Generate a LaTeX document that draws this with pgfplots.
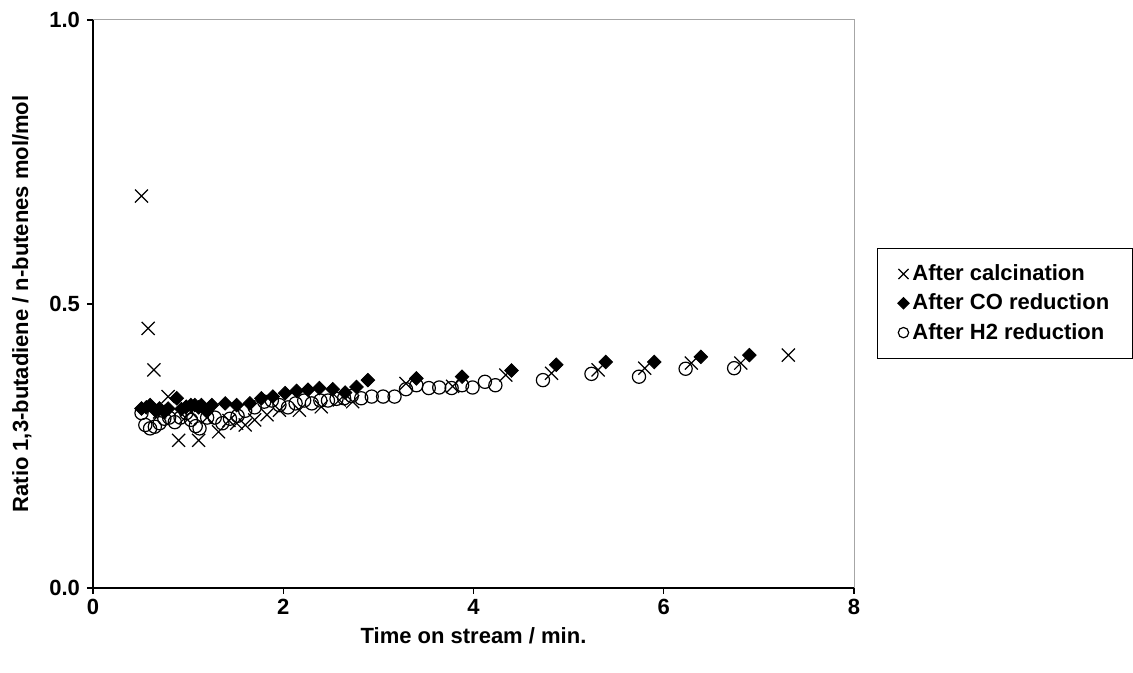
\documentclass[border=0pt]{standalone}
\usepackage{fontspec}
\setmainfont{Liberation Sans}
\usepackage{pgfplots}
\pgfplotsset{compat=1.18}

\begin{document}
\begin{tikzpicture}
\path[use as bounding box] (-46.5pt,-42.5pt) rectangle (520pt,294pt);
\begin{axis}[
    at={(0pt,0pt)}, anchor=south west,
    scale only axis,
    width=380.5pt, height=284pt,
    xmin=0, xmax=8, ymin=0, ymax=1,
    axis lines*=left,
    axis line style={line width=0.6pt, -},
    xtick={0,2,...,8}, ytick={0,0.5,1},
    yticklabel style={/pgf/number format/.cd, fixed, fixed zerofill, precision=1},
    /pgf/number format/assume math mode=true,
    tick align=outside,
    major tick length=3pt,
    tick style={black, line width=0.6pt},
    tick label style={font=\bfseries\fontsize{11}{13}\selectfont},
    xticklabel style={yshift=1pt},
    xlabel={Time on stream / min.},
    ylabel={Ratio 1,3-butadiene / n-butenes mol/mol},
    label style={font=\bfseries\fontsize{11}{13}\selectfont},
    xlabel style={yshift=0.5pt},
    ylabel style={yshift=2pt},
    legend style={at={(1.0302,0.5986)}, anchor=north west,
        draw=black, line width=0.5pt,
        font=\bfseries\fontsize{11}{13}\selectfont,
        row sep=1.2pt, inner xsep=10pt, inner ysep=6pt,
        nodes={inner xsep=1.5pt},
        column 2/.style={text width=116pt}},
    legend cell align=left,
    legend image code/.code={\path[draw=none, fill=none] (-3pt,0pt) -- (3pt,0pt);
        \draw[#1] plot coordinates {(0cm,0cm)};},
    clip=false,
]
\addplot[only marks, mark=x, mark size=4.6pt, line width=0.6pt, black,
    legend image post style={mark size=3.6pt}] coordinates {
(0.51,0.690) (0.58,0.457) (0.64,0.384) (0.70,0.310) (0.79,0.337)
(0.90,0.260) (0.97,0.300) (1.03,0.310) (1.11,0.260) (1.20,0.300)
(1.32,0.275) (1.43,0.295) (1.51,0.290) (1.60,0.287) (1.70,0.296)
(1.83,0.305) (1.96,0.313) (2.17,0.313) (2.40,0.319) (2.59,0.331)
(2.73,0.328) (3.29,0.360) (3.78,0.355) (4.34,0.375) (4.82,0.378)
(5.31,0.384) (5.80,0.387) (6.29,0.396) (6.81,0.396) (7.31,0.410)
};
\addlegendentry{After calcination}
\addplot[only marks, mark=square*, mark size=2.4pt, mark options={rotate=45}, black,
    legend image post style={mark size=2pt}] coordinates {
(0.51,0.316) (0.56,0.318) (0.60,0.322) (0.66,0.312) (0.70,0.316)
(0.75,0.310) (0.79,0.316) (0.88,0.334) (0.93,0.315) (0.98,0.319)
(1.03,0.322) (1.07,0.322) (1.11,0.318) (1.14,0.322) (1.19,0.312)
(1.25,0.322) (1.39,0.325) (1.51,0.322) (1.65,0.325) (1.77,0.334)
(1.89,0.337) (2.02,0.343) (2.14,0.347) (2.26,0.349) (2.38,0.352)
(2.52,0.350) (2.65,0.344) (2.77,0.354) (2.89,0.366) (3.40,0.369)
(3.88,0.372) (4.40,0.383) (4.87,0.393) (5.39,0.398) (5.90,0.398)
(6.39,0.407) (6.90,0.410)
};
\addlegendentry{After CO reduction}
\addplot[only marks, mark=o, mark size=3.3pt, line width=0.6pt, black,
    legend image post style={mark size=2.6pt}] coordinates {
(0.51,0.308) (0.55,0.287) (0.60,0.281) (0.65,0.284) (0.70,0.290)
(0.75,0.298) (0.80,0.300) (0.86,0.292) (0.92,0.300) (0.98,0.308)
(1.03,0.296) (1.08,0.285) (1.12,0.281) (1.20,0.300) (1.28,0.300)
(1.36,0.290) (1.44,0.298) (1.52,0.303) (1.60,0.312) (1.70,0.318)
(1.80,0.328) (1.88,0.330) (1.96,0.322) (2.05,0.318) (2.13,0.325)
(2.22,0.330) (2.30,0.325) (2.39,0.330) (2.47,0.330) (2.56,0.333)
(2.64,0.334) (2.72,0.338) (2.82,0.334) (2.93,0.337) (3.05,0.337)
(3.17,0.337) (3.29,0.350) (3.40,0.357) (3.53,0.352) (3.64,0.353)
(3.77,0.352) (3.88,0.357) (3.99,0.353) (4.12,0.363) (4.23,0.357)
(4.73,0.366) (5.24,0.377) (5.74,0.372) (6.23,0.386) (6.74,0.387)
};
\addlegendentry{After H2 reduction}
\draw[gray!70, line width=0.5pt] (rel axis cs:0,1) -- (rel axis cs:1,1) -- (rel axis cs:1,0);
\end{axis}
\end{tikzpicture}
\end{document}
